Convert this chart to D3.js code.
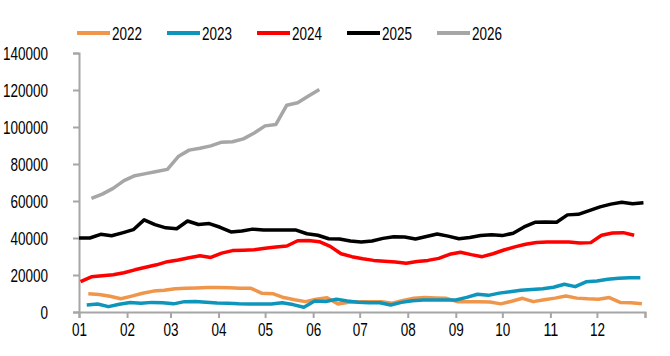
<!DOCTYPE html>
<html>
<head>
<meta charset="utf-8">
<script src="https://cdn.jsdelivr.net/npm/d3@7"></script>
<style>
    body { margin: 0; background: #fff; }
    text { font-family: "Liberation Sans", Arial, sans-serif; }
</style>
</head>
<body>
<div id="chart"></div>
<script>
// weekly values, one array per year
var years = ["2022", "2023", "2024", "2025", "2026"];
var firstWeek = ["01-07", "01-06", "01-02", "01-01", "01-09"];
var colors = ["#f0964a", "#0e95bb", "#ff0000", "#000000", "#a6a6a6"];

var v2022 = [9900, 9500, 8500, 7200, 8600, 10100, 11300, 11800, 12600, 12800, 13000, 13300, 13300,
    13100, 12800, 12800, 10100, 9900, 7800, 6600, 5600, 6900, 7700, 4300, 5300, 5600, 5600, 5600,
    4700, 6200, 7500, 7900, 7600, 7400, 5600, 5600, 5600, 5400, 4400, 5800, 7400, 5600, 6600, 7500,
    8600, 7500, 7100, 6900, 7800, 5200, 5000, 4400];
var v2023 = [3800, 4300, 2900, 4200, 5100, 4700, 5200, 5000, 4400, 5600, 5700, 5300, 4900, 4700,
    4400, 4300, 4300, 4300, 5000, 4000, 2600, 5900, 5700, 6900, 6000, 5300, 5000, 5000, 3800, 5200,
    6100, 6500, 6500, 6500, 6500, 7900, 9600, 9000, 10200, 11000, 11800, 12200, 12600, 13400, 15000,
    13700, 16300, 16800, 17700, 18300, 18500, 18500];
var v2024 = [16400, 19000, 19600, 20100, 21200, 22800, 24200, 25500, 27200, 28100, 29300, 30400,
    29500, 31800, 33200, 33400, 33700, 34400, 35100, 35700, 38500, 38600, 38000, 35500, 31500, 29900,
    28800, 27900, 27400, 27000, 26400, 27300, 27900, 29000, 31200, 32300, 31000, 29900, 31500, 33500,
    35200, 36600, 37600, 37800, 37800, 37800, 37300, 37500, 41500, 42700, 42900, 41500];
var v2025 = [40000, 40000, 42000, 41200, 42800, 44500, 49800, 47200, 45500, 45000, 49200, 47300,
    47800, 45800, 43300, 43800, 44800, 44300, 44300, 44300, 44300, 42300, 41500, 39600, 39500, 38400,
    37900, 38400, 39800, 40700, 40500, 39500, 40800, 42200, 41000, 39600, 40300, 41400, 41800, 41300,
    42600, 46000, 48500, 48600, 48500, 52500, 52800, 54800, 56800, 58300, 59300, 58500, 59000];
var v2026 = [61400, 63700, 66800, 71000, 73700, 74800, 75900, 77100, 84000, 87500, 88500, 89800,
    91800, 92000, 93600, 96800, 100600, 101400, 111800, 113100, 116700, 120300];

var seriesValues = [v2022, v2023, v2024, v2025, v2026];
var monthLabels = ["01", "02", "03", "04", "05", "06", "07", "08", "09", "10", "11", "12", ""];
var yTicks = [0, 20000, 40000, 60000, 80000, 100000, 120000, 140000];

var margin = { top: 53, right: 25, bottom: 44, left: 79 };
var width = 670 - margin.left - margin.right;
var height = 356 - margin.top - margin.bottom;

var svg = d3.select("#chart").append("svg")
    .attr("width", 670)
    .attr("height", 356);

var g = svg.append("g")
    .attr("transform", "translate(" + margin.left + "," + margin.top + ")");

// all years are laid over one calendar year
var parse = d3.timeParse("%Y-%m-%d");
var x = d3.scaleTime()
    .domain([parse("2025-01-01"), parse("2026-01-01")])
    .range([0, width]);

var y = d3.scaleLinear()
    .domain([0, 140000])
    .range([height, 0]);

var monthTicks = d3.range(13).map(function(i) { return new Date(2025, i, 1); });

var axisColor = "#a6a6a6";
var digitW = 7.5; // the narrow look of the original font

// squeeze text to the narrow width of the original
function narrow(sel) {
    sel.each(function() {
        var t = d3.select(this);
        var s = t.text();
        if (s.length) t.attr("textLength", s.length * digitW).attr("lengthAdjust", "spacingAndGlyphs");
    });
}

var xAxis = d3.axisBottom(x)
    .tickValues(monthTicks)
    .tickSize(6)
    .tickFormat(function(d, i) { return monthLabels[i]; });

var yAxis = d3.axisLeft(y)
    .tickValues(yTicks)
    .tickSize(6)
    .tickFormat(d3.format("d"));

var yAxisg = g.append("g").attr("class", "y-axis").call(yAxis);
var xAxisg = g.append("g").attr("class", "x-axis")
    .attr("transform", "translate(0," + height + ")")
    .call(xAxis);

[xAxisg, yAxisg].forEach(function(a) {
    a.select(".domain").attr("stroke", axisColor).attr("stroke-width", 2);
    a.selectAll(".tick line").attr("stroke", axisColor).attr("stroke-width", 2);
    a.selectAll(".tick text")
        .attr("fill", "#000")
        .style("font-size", "19px")
        .call(narrow);
});
yAxisg.selectAll(".tick text").attr("x", -31).attr("dy", "0.35em");
xAxisg.selectAll(".tick text").attr("y", 11);

var line = d3.line()
    .x(function(d) { return x(d.date); })
    .y(function(d) { return y(d.value); });

var series = years.map(function(yr, k) {
    var start = parse("2025-" + firstWeek[k]);
    return {
        name: yr,
        color: colors[k],
        points: seriesValues[k].map(function(v, i) {
            return { date: d3.timeDay.offset(start, 7 * i), value: v };
        })
    };
});

g.selectAll(".series")
    .data(series)
    .enter().append("path")
    .attr("class", "series")
    .attr("fill", "none")
    .attr("stroke", function(d) { return d.color; })
    .attr("stroke-width", 3.5)
    .attr("stroke-linejoin", "round")
    .attr("d", function(d) { return line(d.points); });

// legend
var legend = svg.selectAll(".legend")
    .data(series)
    .enter().append("g")
    .attr("class", "legend")
    .attr("transform", function(d, i) { return "translate(" + (77 + 90 * i) + ",33)"; });

legend.append("line")
    .attr("x1", 0).attr("x2", 33)
    .attr("stroke", function(d) { return d.color; })
    .attr("stroke-width", 4);

legend.append("text")
    .attr("x", 35)
    .attr("dy", "0.35em")
    .style("font-size", "19px")
    .text(function(d) { return d.name; })
    .call(narrow);
</script>
</body>
</html>
